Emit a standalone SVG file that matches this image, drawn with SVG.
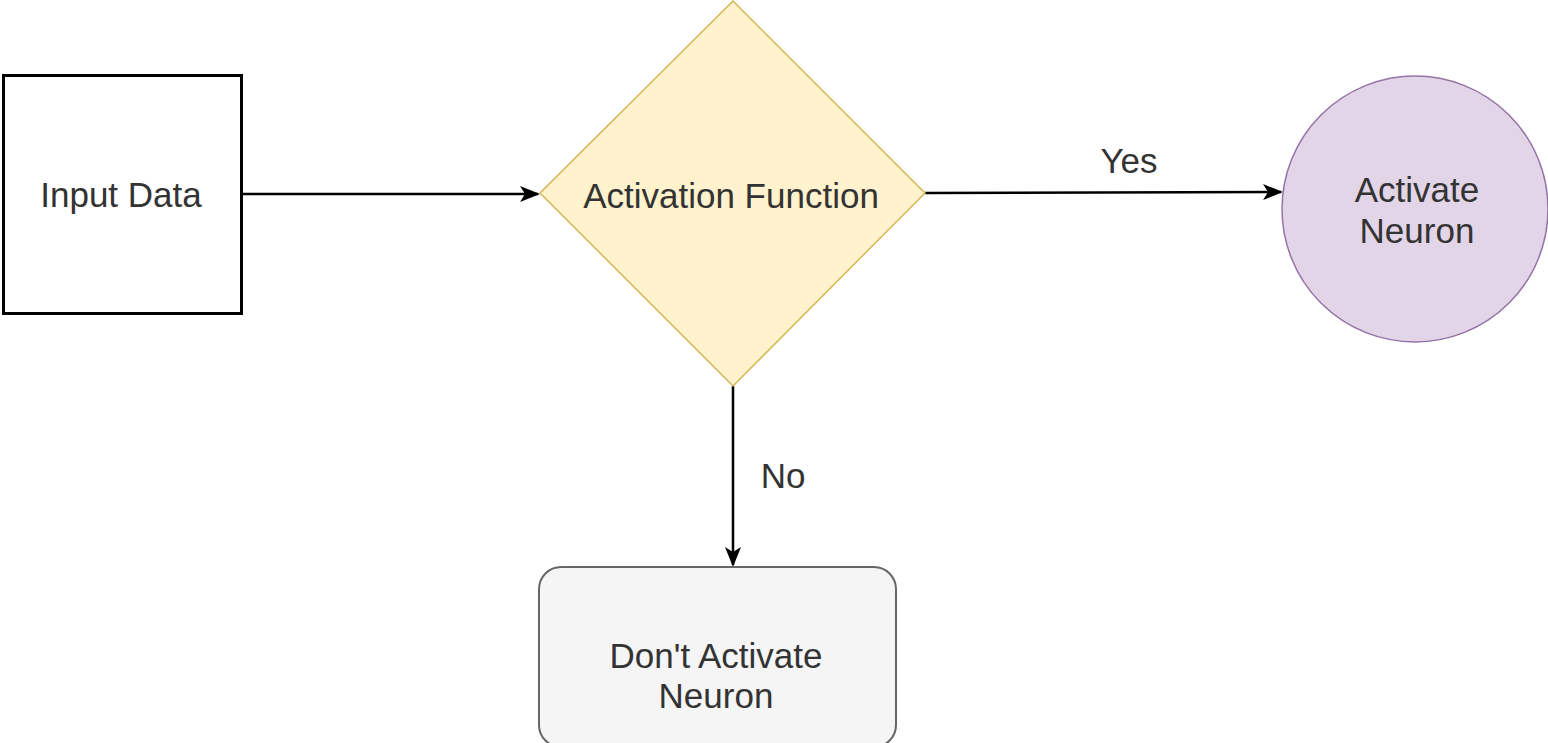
<svg xmlns="http://www.w3.org/2000/svg" width="1548" height="743" viewBox="0 0 1548 743">
<style>
text{font-family:"Liberation Sans",Arial,sans-serif;font-size:35px;fill:#333333;text-anchor:middle}
.edge{stroke:#000;stroke-width:2.5;fill:none}
</style>
<defs>
<marker id="arr" viewBox="0 0 20 16" refX="18" refY="8" markerWidth="20" markerHeight="16" markerUnits="userSpaceOnUse" orient="auto">
<path d="M0,0 L20,8 L0,16 L5,8 Z" fill="#000"/>
</marker>
</defs>
<rect width="1548" height="743" fill="#fff"/>
<g id="connectors">
<path class="edge" d="M242,194 L538,194" marker-end="url(#arr)"/>
<path class="edge" d="M925,193 L1281,192" marker-end="url(#arr)"/>
<path class="edge" d="M733,386 L733,565" marker-end="url(#arr)"/>
<text x="1129" y="173">Yes</text>
<text x="783" y="488">No</text>
</g>
<g id="input">
<rect x="3.5" y="75.5" width="238" height="238" fill="#fff" stroke="#000" stroke-width="3"/>
<text x="121" y="207">Input Data</text>
</g>
<g id="activation">
<polygon points="733,1 925,193 733,386 540,193" fill="#fff2cc" stroke="#d6b656" stroke-width="1.5"/>
<text x="731" y="208">Activation Function</text>
</g>
<g id="activate">
<circle cx="1415" cy="209" r="133" fill="#e1d5e7" stroke="#9673a6" stroke-width="1.5"/>
<text x="1417" y="202">Activate</text>
<text x="1417" y="243">Neuron</text>
</g>
<g id="dont">
<rect x="539" y="567" width="357" height="180" rx="22" fill="#f5f5f5" stroke="#666666" stroke-width="2"/>
<text x="716" y="668">Don't Activate</text>
<text x="716" y="708">Neuron</text>
</g>
</svg>
